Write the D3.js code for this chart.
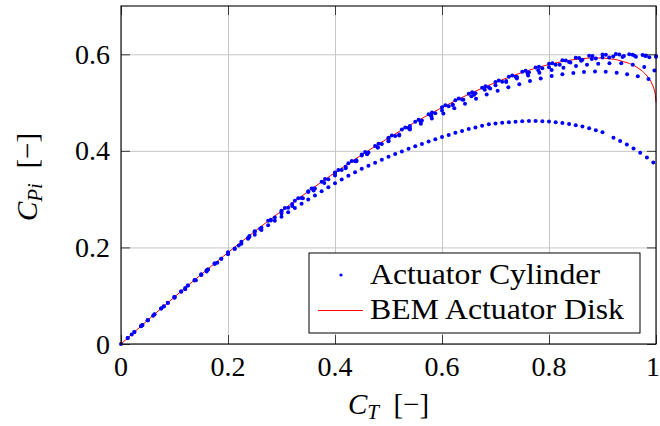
<!DOCTYPE html>
<html><head><meta charset="utf-8">
<script src="https://cdn.jsdelivr.net/npm/d3@7"></script>
<style>
body{margin:0;background:#fff}
svg{display:block;font-family:'Liberation Serif','DejaVu Serif',serif}
svg text{font-family:'Liberation Serif','DejaVu Serif',serif;fill:#000}
</style>
</head><body>
<svg id="c" width="660" height="426" font-family="Liberation Serif, DejaVu Serif, serif"></svg>
<script>
// ---- data ----
const xTicks = [0, 0.2, 0.4, 0.6, 0.8, 1];
const xTickLabels = ["0", "0.2", "0.4", "0.6", "0.8", "1"];
const yTicks = [0, 0.2, 0.4, 0.6];
const yTickLabels = ["0", "0.2", "0.4", "0.6"];
const legendNames = ["Actuator Cylinder", "BEM Actuator Disk"];

// BEM actuator disk curve (C_T, C_Pi)
const bemDisk = [[0,0],[0.025,0.0248],[0.05,0.0494],[0.075,0.0736],[0.1,0.0974],[0.125,0.1210],[0.15,0.1441],
 [0.175,0.1670],[0.2,0.1894],[0.225,0.2115],[0.25,0.2333],[0.275,0.2546],[0.3,0.2755],[0.325,0.2960],[0.35,0.3161],
 [0.375,0.3357],[0.4,0.3549],[0.425,0.3736],[0.45,0.3919],[0.475,0.4096],[0.5,0.4268],[0.525,0.4434],[0.55,0.4595],
 [0.575,0.4749],[0.6,0.4897],[0.625,0.5039],[0.65,0.5173],[0.675,0.5299],[0.7,0.5417],[0.725,0.5526],[0.75,0.5625],
 [0.775,0.5713],[0.8,0.5789],[0.825,0.5851],[0.85,0.5896],[0.875,0.5922],[0.9,0.5923],[0.925,0.5892],[0.95,0.5812],
 [0.96,0.5760],[0.97,0.5690],[0.975,0.5646],[0.98,0.5593],[0.985,0.5528],[0.99,0.5445],[0.995,0.5327],[0.9975,0.5237],
 [0.999,0.5153],[1.0,0.5000]];

// Actuator cylinder results: several runs
const cylMain1 = [[0,0],[0.025,0.0248],[0.05,0.0494],[0.075,0.0736],[0.1,0.0975],[0.125,0.1212],[0.15,0.1444],
 [0.175,0.1673],[0.2,0.1898],[0.225,0.2119],[0.25,0.2337],[0.275,0.2551],[0.3,0.2760],[0.325,0.2965],[0.35,0.3166],
 [0.375,0.3362],[0.4,0.3554],[0.425,0.3741],[0.45,0.3924],[0.475,0.4101],[0.5,0.4273],[0.525,0.4440],[0.55,0.4601],
 [0.575,0.4756],[0.6,0.4905],[0.625,0.5047],[0.65,0.5181],[0.675,0.5308],[0.7,0.5427],[0.725,0.5537],[0.75,0.5637],
 [0.775,0.5727],[0.8,0.5806],[0.825,0.5875],[0.85,0.5930],[0.875,0.5970],[0.9,0.5995],[0.925,0.6005],[0.95,0.6000],
 [0.975,0.5985],[1.0,0.5965]];

const cylMain2 = [[0.0125,0.0123],[0.0375,0.0368],[0.0625,0.0610],[0.0875,0.0848],[0.1125,0.1082],[0.1375,0.1314],
 [0.1625,0.1541],[0.1875,0.1764],[0.2125,0.1980],[0.2375,0.2197],[0.2625,0.2410],[0.2875,0.2618],[0.3125,0.2822],
 [0.3375,0.3023],[0.3625,0.3219],[0.3875,0.3411],[0.4125,0.3601],[0.4375,0.3786],[0.4625,0.3966],[0.4875,0.4140],
 [0.5125,0.4309],[0.5375,0.4473],[0.5625,0.4630],[0.5875,0.4781],[0.6125,0.4926],[0.6375,0.5064],[0.6625,0.5194],
 [0.6875,0.5316],[0.7125,0.5430],[0.7375,0.5534],[0.7625,0.5627],[0.7875,0.5710],[0.8125,0.5782],[0.8375,0.5840],
 [0.8625,0.5885],[0.8875,0.5915],[0.9125,0.5935],[0.9375,0.5945],[0.9625,0.5948],[0.9875,0.5940]];

const cylMain3 = [[0.02,0.0197],[0.04,0.0392],[0.06,0.0586],[0.08,0.0778],[0.1,0.0960],[0.12,0.1133],[0.14,0.1319],
 [0.16,0.1503],[0.18,0.1685],[0.2,0.1864],[0.22,0.2042],[0.24,0.2216],[0.26,0.2388],[0.28,0.2558],[0.3,0.2705],
 [0.32,0.2859],[0.34,0.3021],[0.36,0.3180],[0.38,0.3336],[0.4,0.3489],[0.42,0.3639],[0.44,0.3786],[0.46,0.3930],
 [0.48,0.4071],[0.5,0.4208],[0.52,0.4341],[0.54,0.4471],[0.56,0.4597],[0.58,0.4719],[0.6,0.4837],[0.62,0.4951],
 [0.64,0.5060],[0.66,0.5164],[0.68,0.5263],[0.7,0.5357],[0.72,0.5445],[0.74,0.5527],[0.76,0.5602],[0.78,0.5669],
 [0.8,0.5729],[0.82,0.5785],[0.84,0.5830],[0.86,0.5865],[0.88,0.5900],[0.9,0.5935],[0.92,0.5955],[0.94,0.5965],
 [0.96,0.5968],[0.98,0.5962],[1.0,0.5950]];

const cylMain4 = [[0.30625,0.2817],[0.33125,0.3021],[0.35625,0.3220],[0.38125,0.3415],[0.40625,0.3606],
 [0.43125,0.3792],[0.45625,0.3974],[0.48125,0.4149],[0.50625,0.4320],[0.53125,0.4485],[0.55625,0.4644],
 [0.58125,0.4796],[0.60625,0.4943],[0.63125,0.5083],[0.65625,0.5215],[0.68125,0.5339],[0.70625,0.5455],
 [0.73125,0.5561],[0.75625,0.5657],[0.78125,0.5742],[0.80625,0.5815],[0.83125,0.5873],[0.85625,0.5922],
 [0.88125,0.5963],[0.90625,0.5990],[0.93125,0.5995],[0.95625,0.5990],[0.98125,0.5975]];

const cylRunC = [[0.05,0.0492],[0.1,0.0968],[0.15,0.1435],[0.2,0.1885],[0.25,0.2325],[0.3,0.2745],[0.35,0.3150],
 [0.4,0.3540],[0.45,0.3905],[0.5,0.4255],[0.54,0.4515],[0.58,0.4750],[0.62,0.4960],[0.655,0.5130],[0.69,0.5290],
 [0.72,0.5425],[0.74,0.5500],[0.761,0.5560],[0.782,0.5620],[0.805,0.5675],[0.827,0.5720],[0.8505,0.5757],
 [0.871,0.5785],[0.892,0.5805],[0.913,0.5815],[0.935,0.5812],[0.9565,0.5785],[0.978,0.5735],[0.997,0.5665]];

const cylRunB = [[0.04,0.0395],[0.08,0.0780],[0.12,0.1158],[0.16,0.1525],[0.2,0.1885],[0.24,0.2235],[0.28,0.2575],
 [0.32,0.2900],[0.36,0.3220],[0.4,0.3530],[0.42,0.3670],[0.44,0.3806],[0.46,0.3940],[0.48,0.4070],[0.5,0.4200],
 [0.52,0.4320],[0.54,0.4440],[0.5605,0.4560],[0.581,0.4670],[0.6025,0.4775],[0.623,0.4880],[0.643,0.4975],
 [0.6636,0.5077],[0.6835,0.5167],[0.704,0.5243],[0.724,0.5315],[0.7445,0.5382],[0.7645,0.5445],[0.7845,0.5500],
 [0.805,0.5548],[0.825,0.5585],[0.8455,0.5615],[0.8654,0.5635],[0.886,0.5643],[0.906,0.5638],[0.9265,0.5617],
 [0.946,0.5585],[0.966,0.5545],[0.986,0.5490]];

const cylRunA = [[0.0125,0.0124],[0.025,0.0248],[0.0375,0.0371],[0.05,0.0494],[0.0625,0.0615],[0.075,0.0736],
 [0.0875,0.0855],[0.1,0.0974],[0.1125,0.1092],[0.125,0.1210],[0.1375,0.1326],[0.15,0.1431],[0.1625,0.1544],
 [0.175,0.1655],[0.1875,0.1765],[0.2,0.1864],[0.2125,0.1970],[0.225,0.2075],[0.2375,0.2179],[0.25,0.2263],
 [0.2625,0.2362],[0.275,0.2458],[0.2875,0.2552],[0.3,0.2635],[0.3125,0.2727],[0.325,0.2818],[0.3375,0.2907],
 [0.35,0.2991],[0.3625,0.3077],[0.375,0.3162],[0.3875,0.3245],[0.4,0.3329],[0.4125,0.3406],[0.425,0.3482],
 [0.4375,0.3556],[0.45,0.3629],[0.4625,0.3693],[0.475,0.3756],[0.4875,0.3817],[0.5,0.3878],[0.5125,0.3934],
 [0.525,0.3989],[0.5375,0.4043],[0.55,0.4095],[0.5625,0.4144],[0.575,0.4193],[0.5875,0.4239],[0.6,0.4287],
 [0.6125,0.4330],[0.625,0.4373],[0.6375,0.4412],[0.65,0.4451],[0.6625,0.4486],[0.675,0.4521],[0.6875,0.4552],
 [0.7,0.4565],[0.7125,0.4580],[0.725,0.4593],[0.7375,0.4603],[0.75,0.4611],[0.7625,0.4616],[0.775,0.4618],
 [0.7875,0.4615],[0.8,0.4607],[0.8125,0.4595],[0.825,0.4578],[0.8375,0.4557],[0.85,0.4532],[0.8625,0.4502],
 [0.875,0.4467],[0.8875,0.4428],[0.9,0.4383],[0.9205,0.4270],[0.933,0.4205],[0.9455,0.4132],[0.958,0.4050],
 [0.9705,0.3960],[0.983,0.3865],[0.995,0.3760]];

const cylinderRuns = [cylMain1, cylMain2, cylMain3, cylMain4, cylRunC, cylRunB, cylRunA];

// ---- drawing ----
const FONT = "'Liberation Serif','DejaVu Serif',serif";
const L = 121, R = 656, T = 6, B = 344;
const svg = d3.select("#c");
const x = d3.scaleLinear().domain([0, 1]).range([L, R]);
const y = d3.scaleLinear().domain([0, 0.7]).range([B, T]);

// grid
svg.append("g").attr("transform", `translate(0,${B})`)
  .call(d3.axisBottom(x).tickValues(xTicks).tickSize(-(B - T)).tickFormat(""))
  .call(g => { g.select(".domain").remove(); g.selectAll("line").attr("stroke", "#c6c6c6").attr("stroke-width", 1); });
svg.append("g").attr("transform", `translate(${L},0)`)
  .call(d3.axisLeft(y).tickValues(yTicks).tickSize(-(R - L)).tickFormat(""))
  .call(g => { g.select(".domain").remove(); g.selectAll("line").attr("stroke", "#c6c6c6").attr("stroke-width", 1); });

// BEM curve (under the markers)
svg.append("path").datum(bemDisk)
  .attr("fill", "none").attr("stroke", "#ff0000").attr("stroke-width", 1)
  .attr("d", d3.line().x(d => x(d[0])).y(d => y(d[1])));

// actuator cylinder markers
const mg = svg.append("g").attr("fill", "#0000ff");
cylinderRuns.forEach(run => {
  mg.selectAll(null).data(run).enter().append("circle")
    .attr("cx", d => x(d[0])).attr("cy", d => y(d[1])).attr("r", 2);
});

// inward tick marks on all four sides
const tickStyle = g => { g.select(".domain").remove(); g.selectAll("line").attr("stroke", "#3a3a3a"); g.selectAll("text").remove(); };
svg.append("g").attr("transform", `translate(0,${B})`).call(d3.axisBottom(x).tickValues(xTicks).tickSize(-9)).call(tickStyle);
svg.append("g").attr("transform", `translate(0,${T})`).call(d3.axisTop(x).tickValues(xTicks).tickSize(-9)).call(tickStyle);
svg.append("g").attr("transform", `translate(${L},0)`).call(d3.axisLeft(y).tickValues(yTicks).tickSize(-9)).call(tickStyle);
svg.append("g").attr("transform", `translate(${R},0)`).call(d3.axisRight(y).tickValues(yTicks).tickSize(-9)).call(tickStyle);

// frame
svg.append("rect").attr("x", L).attr("y", T).attr("width", R - L).attr("height", B - T)
  .attr("fill", "none").attr("stroke", "#000").attr("stroke-width", 1.1);

// tick labels
svg.append("g").selectAll("text").data(xTicks).enter().append("text")
  .attr("x", d => Math.min(x(d), 653)).attr("y", 376).attr("text-anchor", "middle")
  .attr("font-family", FONT).attr("font-size", 28).text((d, i) => xTickLabels[i]);
svg.append("g").selectAll("text").data(yTicks).enter().append("text")
  .attr("x", 110).attr("y", d => y(d) + 9.5).attr("text-anchor", "end")
  .attr("font-family", FONT).attr("font-size", 28).text((d, i) => yTickLabels[i]);

// axis titles
const xt = svg.append("text").attr("x", (L + R) / 2).attr("y", 414).attr("text-anchor", "middle")
  .attr("font-family", FONT).attr("font-size", 29);
xt.append("tspan").attr("font-style", "italic").text("C");
xt.append("tspan").attr("font-style", "italic").attr("font-size", 21).attr("dy", 5).text("T");
xt.append("tspan").attr("dy", -5).text("\u2002[\u2212]");

const yt = svg.append("text").attr("transform", `translate(37,177) rotate(-90)`).attr("text-anchor", "middle")
  .attr("font-family", FONT).attr("font-size", 29);
yt.append("tspan").attr("font-style", "italic").text("C");
yt.append("tspan").attr("font-style", "italic").attr("font-size", 21).attr("dy", 5).text("Pi");
yt.append("tspan").attr("dy", -5).text("\u2002[\u2212]");

// legend
const lg = svg.append("g");
lg.append("rect").attr("x", 309).attr("y", 253).attr("width", 331).attr("height", 80)
  .attr("fill", "#fff").attr("stroke", "#000").attr("stroke-width", 1);
lg.append("circle").attr("cx", 341).attr("cy", 275).attr("r", 1.6).attr("fill", "#0000ff");
lg.append("line").attr("x1", 318).attr("x2", 363).attr("y1", 310.5).attr("y2", 310.5)
  .attr("stroke", "#ff0000").attr("stroke-width", 1.1);
lg.append("text").attr("x", 370).attr("y", 283.5).attr("font-family", FONT).attr("font-size", 30)
  .attr("textLength", 230).attr("lengthAdjust", "spacingAndGlyphs").text(legendNames[0]);
lg.append("text").attr("x", 370).attr("y", 318.5).attr("font-family", FONT).attr("font-size", 30)
  .attr("textLength", 254).attr("lengthAdjust", "spacingAndGlyphs").text(legendNames[1]);
</script>
</body></html>
